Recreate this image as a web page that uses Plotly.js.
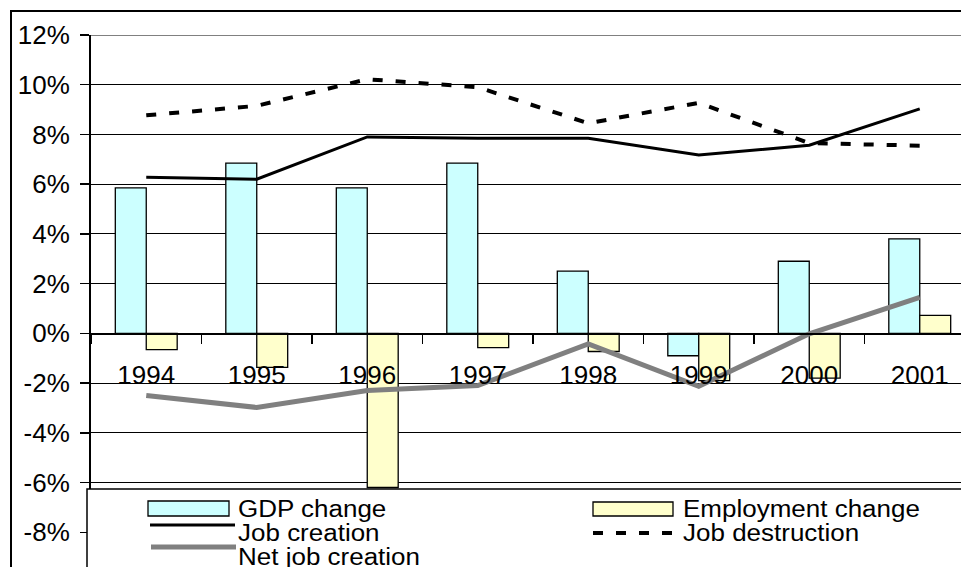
<!DOCTYPE html>
<html>
<head>
<meta charset="utf-8">
<script src="https://cdn.plot.ly/plotly-3.0.1.min.js"></script>
<style>
  html, body { margin: 0; padding: 0; background: #fff; overflow: hidden; }
  #chart { width: 1000px; height: 600px; }
  /* the reference legend text is drawn slightly wide */
  #chart .annotation-text { transform-box: fill-box; transform-origin: left center; transform: scaleX(1.13); }
</style>
</head>
<body>
<div id="chart"></div>
<script>
// ---- data (percent) ----
const years = ['1994', '1995', '1996', '1997', '1998', '1999', '2000', '2001'];
const gdpChange = [5.85, 6.85, 5.85, 6.85, 2.5, -0.9, 2.9, 3.8];
const employmentChange = [-0.65, -1.37, -6.2, -0.57, -0.73, -1.9, -1.8, 0.72];
const jobCreation = [6.28, 6.2, 7.9, 7.85, 7.85, 7.17, 7.57, 9.03];
const jobDestruction = [8.77, 9.15, 10.22, 9.9, 8.45, 9.27, 7.65, 7.55];
const netJobCreation = [-2.5, -2.98, -2.3, -2.1, -0.42, -2.13, -0.02, 1.45];
const seriesNames = ['GDP change', 'Employment change', 'Job creation', 'Job destruction', 'Net job creation'];
const yTickVals = [-8, -6, -4, -2, 0, 2, 4, 6, 8, 10, 12];
const yTickText = ['-8%', '-6%', '-4%', '-2%', '0%', '2%', '4%', '6%', '8%', '10%', '12%'];

// ---- layout geometry (pixels) ----
const W = 1000, H = 600;
const M = {l: 91, t: 35, r: 25, b: 18};
const yMin = -10, yMax = 12;
const plotW = W - M.l - M.r, plotH = H - M.t - M.b;
const px2x = p => (p - M.l) / plotW;
const px2y = p => (H - M.b - p) / plotH;

const FONT = 'Arial, "Liberation Sans", sans-serif';
const GDP_COLOR = '#CCFFFF', EMP_COLOR = '#FFFFCC', NET_COLOR = '#808080';
const DASH = '10px,13px';

const traces = [
  {type: 'bar', x: years, y: gdpChange, name: seriesNames[0],
   marker: {color: GDP_COLOR, line: {color: '#000', width: 1.3}}},
  {type: 'bar', x: years, y: employmentChange, name: seriesNames[1],
   marker: {color: EMP_COLOR, line: {color: '#000', width: 1.3}}},
  {type: 'scatter', mode: 'lines', x: years, y: jobCreation, name: seriesNames[2],
   line: {color: '#000', width: 3}},
  {type: 'scatter', mode: 'lines', x: years, y: jobDestruction, name: seriesNames[3],
   line: {color: '#000', width: 4, dash: DASH}},
  {type: 'scatter', mode: 'lines', x: years, y: netJobCreation, name: seriesNames[4],
   line: {color: NET_COLOR, width: 5}}
];

const shapes = [
  // outer chart border
  {type: 'rect', xref: 'paper', yref: 'paper', layer: 'below',
   x0: px2x(11), x1: px2x(995), y0: px2y(595), y1: px2y(11),
   line: {color: '#000', width: 2}, fillcolor: 'rgba(0,0,0,0)'},
  // plot area top border (grey)
  {type: 'line', xref: 'paper', yref: 'y', layer: 'above',
   x0: 0, x1: 1, y0: yMax, y1: yMax, line: {color: NET_COLOR, width: 2}},
  // legend box
  {type: 'rect', xref: 'paper', yref: 'paper', layer: 'above',
   x0: px2x(87), x1: px2x(995), y0: px2y(598), y1: px2y(489),
   line: {color: '#000', width: 1.5}, fillcolor: '#fff'},
  // legend symbols
  {type: 'rect', xref: 'paper', yref: 'paper', layer: 'above',
   x0: px2x(148), x1: px2x(229), y0: px2y(516), y1: px2y(501),
   line: {color: '#000', width: 1.3}, fillcolor: GDP_COLOR},
  {type: 'rect', xref: 'paper', yref: 'paper', layer: 'above',
   x0: px2x(593), x1: px2x(673), y0: px2y(516), y1: px2y(502),
   line: {color: '#000', width: 1.3}, fillcolor: EMP_COLOR},
  {type: 'line', xref: 'paper', yref: 'paper', layer: 'above',
   x0: px2x(150), x1: px2x(235), y0: px2y(525), y1: px2y(525),
   line: {color: '#000', width: 3}},
  {type: 'line', xref: 'paper', yref: 'paper', layer: 'above',
   x0: px2x(593), x1: px2x(676), y0: px2y(533), y1: px2y(533),
   line: {color: '#000', width: 4, dash: DASH}},
  {type: 'line', xref: 'paper', yref: 'paper', layer: 'above',
   x0: px2x(151), x1: px2x(236), y0: px2y(547), y1: px2y(547),
   line: {color: NET_COLOR, width: 5}}
];

const legendText = [
  {name: seriesNames[0], x: 237, y: 509},
  {name: seriesNames[1], x: 682, y: 509},
  {name: seriesNames[2], x: 237, y: 533},
  {name: seriesNames[3], x: 682, y: 533},
  {name: seriesNames[4], x: 237, y: 557}
];
const annotations = legendText.map(d => ({
  xref: 'paper', yref: 'paper', x: px2x(d.x), y: px2y(d.y),
  xanchor: 'left', yanchor: 'middle', showarrow: false, text: d.name,
  borderpad: 0, font: {family: FONT, size: 23, color: '#000'}
}));

const layout = {
  width: W, height: H,
  margin: M,
  paper_bgcolor: '#fff', plot_bgcolor: '#fff',
  showlegend: false,
  barmode: 'group', bargap: 0.44, bargroupgap: 0,
  font: {family: FONT, size: 26, color: '#000'},
  xaxis: {
    type: 'category', anchor: 'free', position: (0 - yMin) / (yMax - yMin),
    showline: true, linecolor: '#000', linewidth: 1.5,
    ticks: 'outside', tickson: 'boundaries', ticklen: 9, tickwidth: 1.5, tickcolor: '#000',
    showgrid: false, zeroline: false, ticklabelstandoff: 18,
    tickfont: {family: FONT, size: 26, color: '#000'}
  },
  yaxis: {
    range: [yMin, yMax], tickvals: yTickVals, ticktext: yTickText,
    showline: true, linecolor: '#000', linewidth: 2,
    ticks: 'outside', ticklen: 9, tickwidth: 1.5, tickcolor: '#000',
    showgrid: true, gridcolor: '#000', gridwidth: 1, zeroline: false,
    ticklabelstandoff: 5,
    tickfont: {family: FONT, size: 26, color: '#000'}
  },
  shapes: shapes,
  annotations: annotations
};

Plotly.newPlot('chart', traces, layout, {staticPlot: true});
</script>
</body>
</html>
